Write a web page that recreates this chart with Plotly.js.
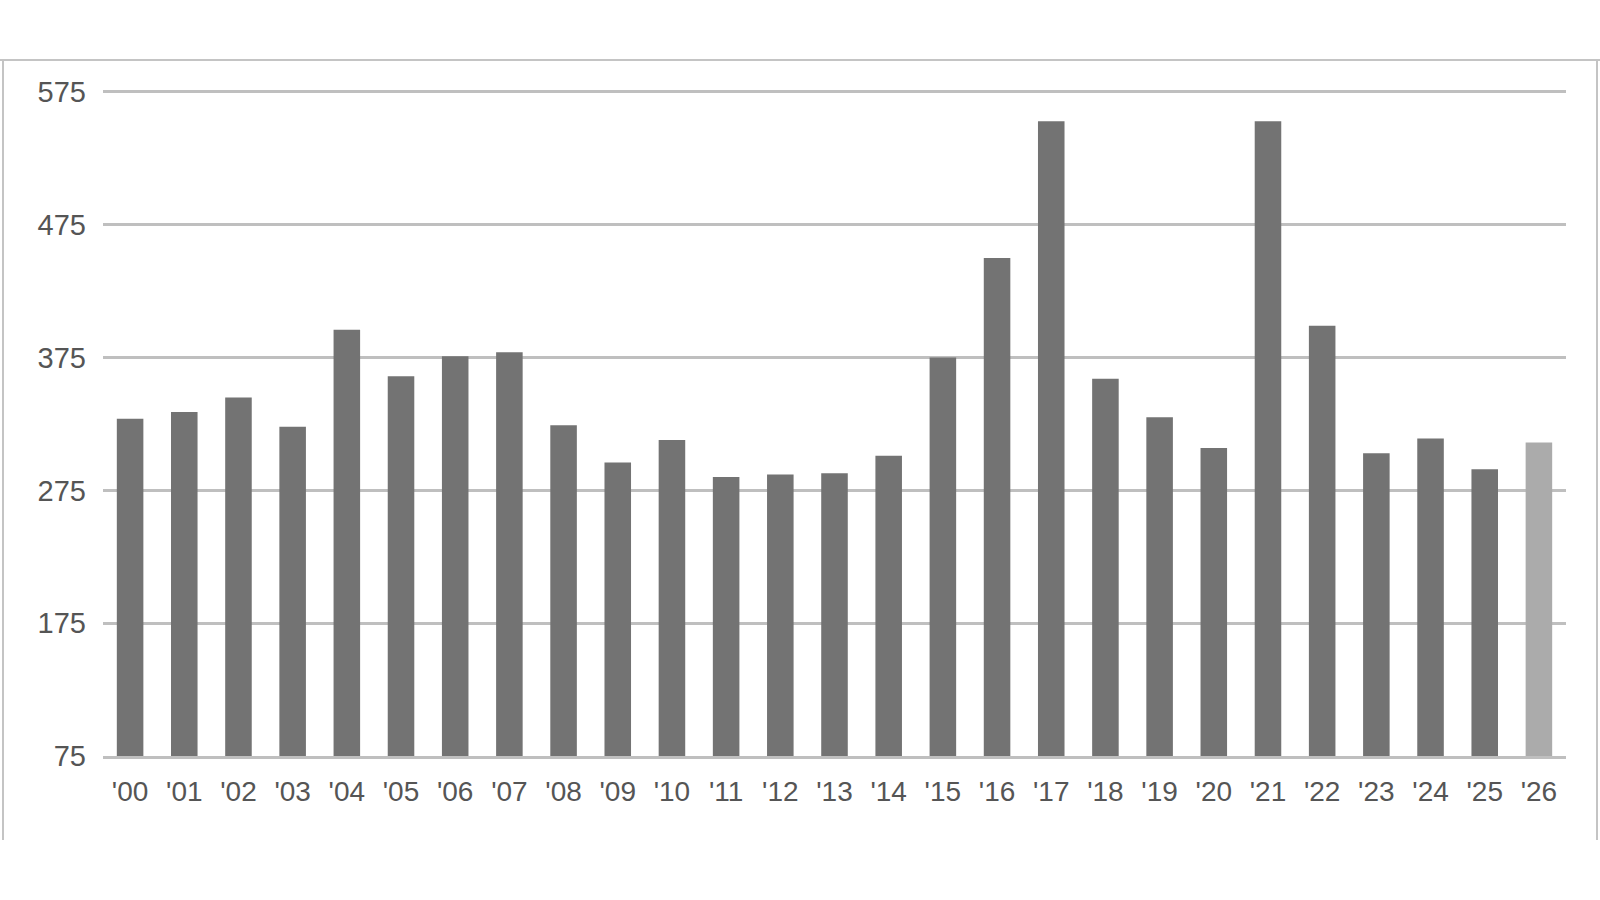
<!DOCTYPE html>
<html>
<head>
<meta charset="utf-8">
<script src="https://cdn.plot.ly/plotly-3.0.1.min.js"></script>
<style>
html, body { margin: 0; padding: 0; background: #ffffff; }
#chart { width: 1600px; height: 900px; }
</style>
</head>
<body>
<div id="chart"></div>
<script>
// Categories (years)
const years = ["'00","'01","'02","'03","'04","'05","'06","'07","'08","'09",
               "'10","'11","'12","'13","'14","'15","'16","'17","'18","'19",
               "'20","'21","'22","'23","'24","'25","'26"];
// Series values
const values = [329, 334, 345, 323, 396, 361, 376, 379, 324, 296,
                313, 285, 287, 288, 301, 375, 450, 553, 359, 330,
                307, 553, 399, 303, 314, 291, 311];
// Y tick values
const yTicks = [75, 175, 275, 375, 475, 575];

const barColors = values.map((v, i) => i === values.length - 1 ? '#ababab' : '#737373');

const L = 103, R = 34, T = 90, B = 144, W = 1600, H = 900;
const pw = W - L - R, ph = H - T - B;
const px = x => (x - L) / pw;
const py = y => (H - B - y) / ph;

const frameColor = '#c4c4c4';
const shapes = [
  {type: 'line', xref: 'paper', yref: 'paper', x0: px(0), x1: px(1600), y0: py(60), y1: py(60),
   line: {color: frameColor, width: 2}},
  {type: 'line', xref: 'paper', yref: 'paper', x0: px(3), x1: px(3), y0: py(60), y1: py(840),
   line: {color: frameColor, width: 2}},
  {type: 'line', xref: 'paper', yref: 'paper', x0: px(1597), x1: px(1597), y0: py(60), y1: py(840),
   line: {color: frameColor, width: 2}}
];

const trace = {
  type: 'bar',
  x: years,
  y: values,
  marker: {color: barColors, line: {width: 0}},
  width: 0.49,
  hoverinfo: 'x+y'
};

const layout = {
  width: W, height: H,
  margin: {l: L, r: R, t: T, b: B, pad: 0},
  paper_bgcolor: '#ffffff',
  plot_bgcolor: '#ffffff',
  showlegend: false,
  font: {family: 'Liberation Sans, Arial, sans-serif', color: '#555555', size: 29},
  xaxis: {
    type: 'category',
    range: [-0.5, years.length - 0.5],
    showgrid: false,
    showline: true, linecolor: '#bfbfbf', linewidth: 3,
    ticks: '',
    ticklabelstandoff: 8,
    tickfont: {size: 28, color: '#555555'},
    fixedrange: true
  },
  yaxis: {
    range: [75, 576.5],
    tickvals: yTicks,
    ticktext: yTicks.map(String),
    showgrid: true, gridcolor: '#bfbfbf', gridwidth: 3,
    zeroline: false,
    showline: false,
    ticks: '',
    ticklabelstandoff: 16,
    tickfont: {size: 29, color: '#555555'},
    fixedrange: true
  },
  shapes: shapes
};

Plotly.newPlot('chart', [trace], layout, {displayModeBar: false, staticPlot: true});
</script>
</body>
</html>
